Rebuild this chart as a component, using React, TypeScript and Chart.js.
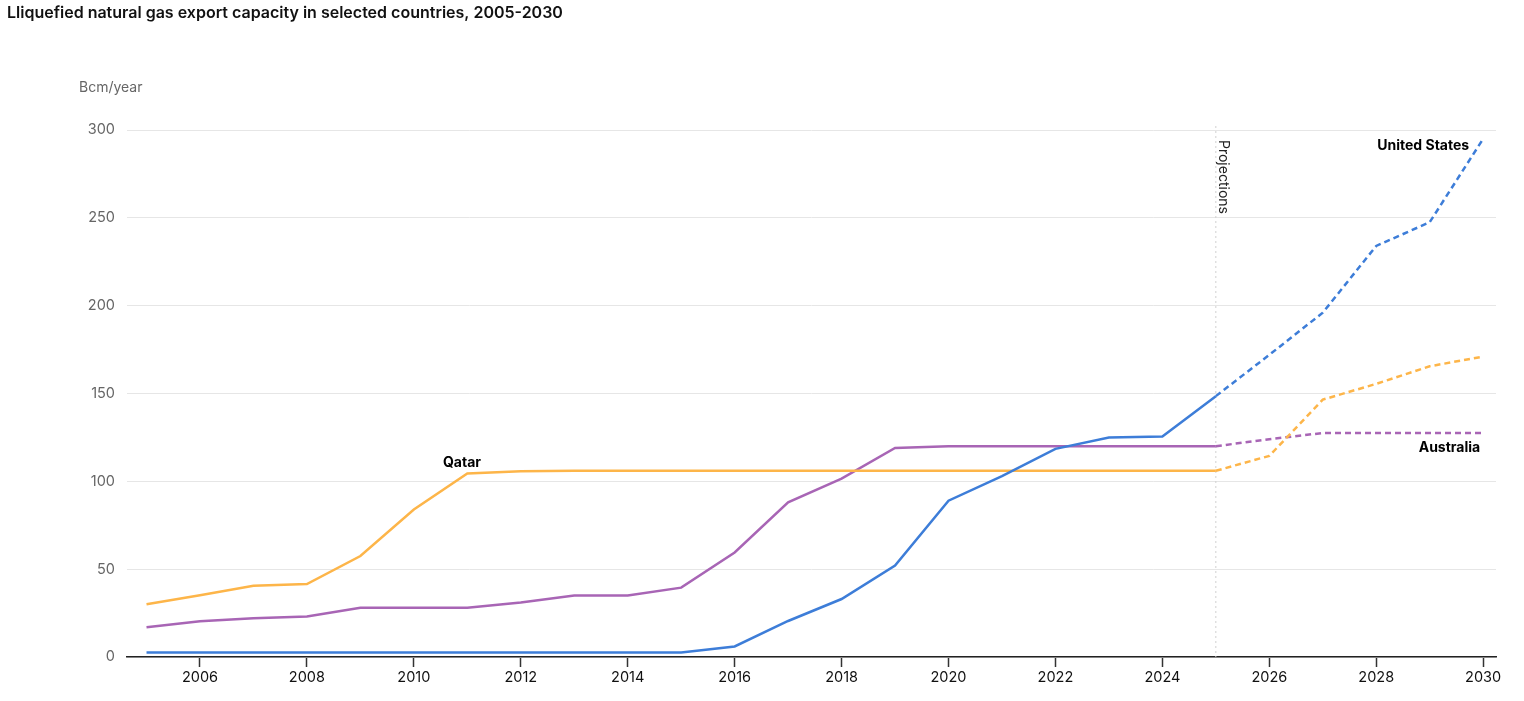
import React, { useEffect, useRef } from "react";
import { Chart, registerables } from "chart.js";

Chart.register(...registerables);

const TITLE = "Lliquefied natural gas export capacity in selected countries, 2005-2030";
const Y_UNIT = "Bcm/year";
const YEARS = [2005, 2006, 2007, 2008, 2009, 2010, 2011, 2012, 2013, 2014, 2015, 2016, 2017, 2018, 2019, 2020, 2021, 2022, 2023, 2024, 2025, 2026, 2027, 2028, 2029, 2030];
const X_TICKS = [2006, 2008, 2010, 2012, 2014, 2016, 2018, 2020, 2022, 2024, 2026, 2028, 2030];
const PROJECTION_START = 2025;

const UNITED_STATES = [2.5, 2.5, 2.5, 2.5, 2.5, 2.5, 2.5, 2.5, 2.5, 2.5, 2.5, 6, 20.5, 33, 52, 89, 103, 118.5, 125, 125.5, 148.5, 172, 196, 234, 247.5, 295];
const QATAR = [30, 35.2, 40.5, 41.5, 57.5, 84, 104.5, 105.8, 106, 106, 106, 106, 106, 106, 106, 106, 106, 106, 106, 106, 106, 114.5, 146.5, 155.5, 165.5, 171];
const AUSTRALIA = [17, 20.3, 22, 23, 28, 28, 28, 31, 35, 35, 39.5, 59.5, 88, 101.5, 119, 120, 120, 120, 120, 120, 120, 124, 127.5, 127.5, 127.5, 127.5];

const SERIES = [
  { name: "United States", values: UNITED_STATES, color: "#3D7DD8" },
  { name: "Qatar", values: QATAR, color: "#FDB549" },
  { name: "Australia", values: AUSTRALIA, color: "#A865B5" },
];

const FONT = "Inter, 'Noto Sans', sans-serif";

export default function App() {
  const ref = useRef<HTMLCanvasElement | null>(null);

  useEffect(() => {
    if (!ref.current) return;

    const annotations = {
      id: "annotations",
      beforeDatasetsDraw(chart: any) {
        const { ctx, chartArea, scales } = chart;
        const x = scales.x.getPixelForValue(PROJECTION_START);
        ctx.save();
        ctx.strokeStyle = "#d0d0d0";
        ctx.lineWidth = 1;
        ctx.setLineDash([2, 3]);
        ctx.beginPath();
        ctx.moveTo(x, chartArea.top - 4);
        ctx.lineTo(x, chartArea.bottom);
        ctx.stroke();
        ctx.restore();
      },
      afterDraw(chart: any) {
        const { ctx, scales } = chart;
        const xs = scales.x;
        const ys = scales.y;
        ctx.save();
        // title
        ctx.fillStyle = "#111";
        ctx.font = `600 16px ${FONT}`;
        ctx.textAlign = "left";
        ctx.textBaseline = "middle";
        ctx.fillText(TITLE, 7, 13);
        // unit
        ctx.fillStyle = "#666";
        ctx.font = `14px ${FONT}`;
        ctx.fillText(Y_UNIT, 79, 88);
        // projections
        const px = xs.getPixelForValue(PROJECTION_START);
        ctx.save();
        ctx.translate(px + 7, 140);
        ctx.rotate(Math.PI / 2);
        ctx.fillStyle = "#222";
        ctx.font = `14px ${FONT}`;
        ctx.textAlign = "left";
        ctx.textBaseline = "middle";
        ctx.fillText("Projections", 0, 0);
        ctx.restore();
        // series labels
        ctx.fillStyle = "#000";
        ctx.font = `bold 14px ${FONT}`;
        ctx.textBaseline = "middle";
        ctx.textAlign = "right";
        ctx.fillText("United States", xs.getPixelForValue(2030) - 14, ys.getPixelForValue(291));
        ctx.fillText("Australia", xs.getPixelForValue(2030) - 3, ys.getPixelForValue(119));
        ctx.textAlign = "center";
        ctx.fillText("Qatar", xs.getPixelForValue(2010.9), ys.getPixelForValue(110.5));
        ctx.restore();
      },
    };

    const chart = new Chart(ref.current, {
      type: "line",
      data: {
        datasets: SERIES.map((s) => ({
          label: s.name,
          data: YEARS.map((y, i) => ({ x: y, y: s.values[i] })),
          borderColor: s.color,
          backgroundColor: s.color,
          borderWidth: 2.5,
          pointRadius: 0,
          pointHoverRadius: 0,
          tension: 0,
          segment: {
            borderDash: (c: any) => (c.p0.parsed.x >= PROJECTION_START ? [6, 4] : undefined),
          },
        })),
      },
      options: {
        animation: false,
        responsive: false,
        maintainAspectRatio: false,
        layout: { padding: { top: 130, right: 28, bottom: 0, left: 0 } },
        plugins: {
          legend: { display: false },
          tooltip: { enabled: false },
          title: { display: false },
        },
        scales: {
          x: {
            type: "linear",
            min: 2004.635,
            max: 2030.24,
            afterBuildTicks: (scale: any) => {
              scale.ticks = X_TICKS.map((v) => ({ value: v }));
            },
            afterFit: (scale: any) => {
              scale.height = 44;
            },
            grid: {
              display: true,
              drawOnChartArea: false,
              drawTicks: true,
              tickLength: 10,
              tickColor: "#333",
              tickWidth: 1.5,
            },
            border: { display: true, color: "#222", width: 1.5 },
            ticks: {
              color: "#111",
              font: { family: FONT, size: 14.5 },
              padding: 2,
              maxRotation: 0,
              autoSkip: false,
              callback: (v: any) => String(v),
            },
          },
          y: {
            type: "linear",
            min: 0,
            max: 300,
            afterFit: (scale: any) => {
              scale.width = 127;
            },
            grid: {
              color: "#e6e6e6",
              lineWidth: 1,
              drawTicks: false,
            },
            border: { display: false },
            ticks: {
              stepSize: 50,
              color: "#666",
              font: { family: FONT, size: 14.5 },
              padding: 12,
            },
          },
        },
      },
      plugins: [annotations],
    });

    return () => chart.destroy();
  }, []);

  return (
    <div style={{ position: "absolute", left: 0, top: 0, width: 1524, height: 701, background: "#fff" }}>
      <canvas ref={ref} width={1524} height={701} style={{ width: 1524, height: 701, display: "block" }} />
    </div>
  );
}
